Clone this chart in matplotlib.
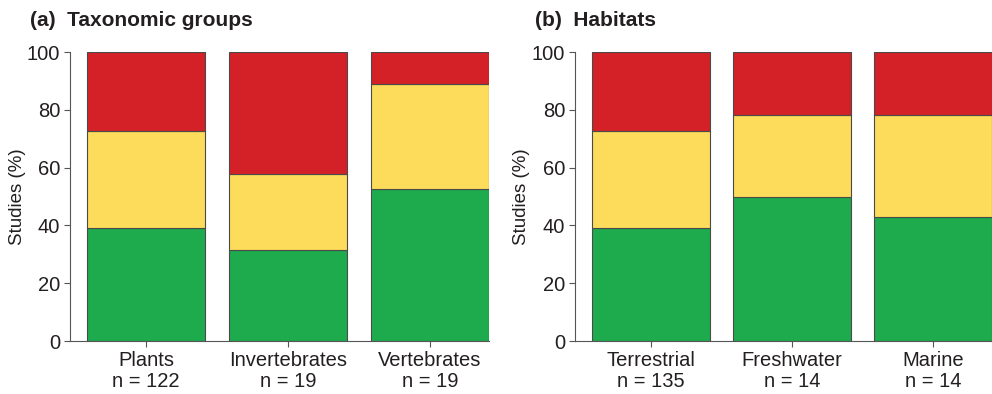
import numpy as np
import matplotlib.pyplot as plt

plt.rcParams['font.family'] = ['Liberation Sans', 'DejaVu Sans']

# ---- data (percent of studies) ----
tax_labels = ['Plants\nn = 122', 'Invertebrates\nn = 19', 'Vertebrates\nn = 19']
tax_green  = [39.2, 31.6, 52.6]
tax_yellow = [33.3, 26.3, 36.4]
tax_red    = [27.5, 42.1, 11.0]

hab_labels = ['Terrestrial\nn = 135', 'Freshwater\nn = 14', 'Marine\nn = 14']
hab_green  = [39.2, 50.0, 42.9]
hab_yellow = [33.3, 28.2, 35.3]
hab_red    = [27.5, 21.8, 21.8]

c_green  = '#1dab4e'
c_yellow = '#fcdc5a'
c_red    = '#d42027'
txt      = '#231f20'

fig = plt.figure(figsize=(9.92, 3.94), dpi=100)
ax1 = fig.add_axes([0.0706, 0.1345, 0.4224, 0.7335])
ax2 = fig.add_axes([0.5796, 0.1345, 0.4204, 0.7335])


def stacked(ax, labels, g, y, r, title):
    x = np.arange(len(labels))
    g = np.array(g); y = np.array(y); r = np.array(r)
    kw = dict(width=0.834, edgecolor='#4a4a4a', linewidth=0.8)
    ax.bar(x, g, color=c_green, **kw)
    ax.bar(x, y, bottom=g, color=c_yellow, **kw)
    ax.bar(x, r, bottom=g + y, color=c_red, **kw)
    ax.set_xlim(-0.537, 2.417)
    ax.set_ylim(0, 100)
    ax.set_yticks([0, 20, 40, 60, 80, 100])
    ax.set_xticks(x)
    ax.set_xticklabels(labels, fontsize=14.5, color=txt, linespacing=1.15)
    ax.tick_params(axis='y', labelsize=14.5, labelcolor=txt, length=4, width=0.8,
                   color='#555555', pad=3)
    ax.tick_params(axis='x', length=4, width=0.8, color='#555555', pad=3)
    ax.spines['top'].set_visible(False)
    ax.spines['right'].set_visible(False)
    ax.spines['left'].set_color('#555555')
    ax.spines['bottom'].set_color('#555555')
    ax.set_ylabel('Studies (%)', fontsize=13.5, color=txt, labelpad=1)
    ax.set_title(title, fontsize=15, fontweight='bold', color=txt, loc='left',
                 x=-0.095, y=1.06)


stacked(ax1, tax_labels, tax_green, tax_yellow, tax_red, '(a)  Taxonomic groups')
stacked(ax2, hab_labels, hab_green, hab_yellow, hab_red, '(b)  Habitats')

plt.savefig('out.png', dpi=100)
